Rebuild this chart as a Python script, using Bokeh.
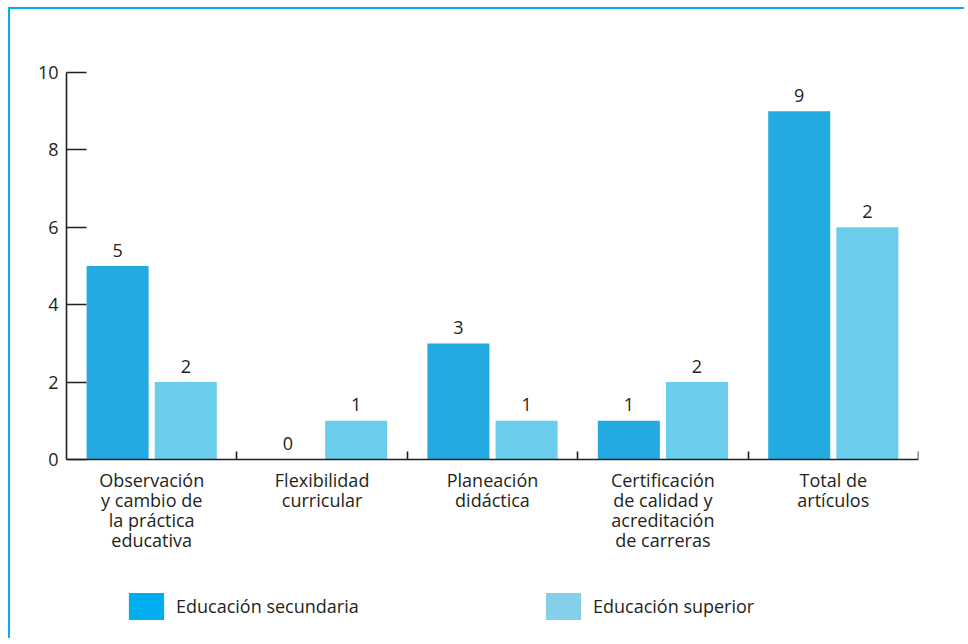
import numpy as np
from bokeh.plotting import figure
from bokeh.models import Range1d, FixedTicker, Legend, LegendItem, ColumnDataSource
from bokeh.core.properties import value
from bokeh.embed import file_html
from bokeh.resources import INLINE

# ---- data ----
categories = [
    "Observación\ny cambio de\nla práctica\neducativa",
    "Flexibilidad\ncurricular",
    "Planeación\ndidáctica",
    "Certificación\nde calidad y\nacreditación\nde carreras",
    "Total de\nartículos",
]
secundaria = [5, 0, 3, 1, 9]
superior = [2, 1, 1, 2, 6]          # bar heights as drawn
secundaria_labels = ["5", "0", "3", "1", "9"]
superior_labels = ["2", "1", "1", "2", "2"]  # labels as printed
y_ticks = [0, 2, 4, 6, 8, 10]
series_names = ["Educación secundaria", "Educación superior"]

# ---- styles / layout ----
FONT = "Open Sans"
FS = "18px"
TXT = "#231f20"
C_SEC = "#22aae1"
C_SUP = "#6bcdec"
L_SEC = "#00aeef"
L_SUP = "#84d0ea"
W, H = 956, 631
BORDER_TOP, BORDER_BOTTOM = 63, 10
AXIS_PX = 387          # pixel height of the 0..10 value axis
Y_MAX = 10
frame_h = H - BORDER_TOP - BORDER_BOTTOM
y_min = Y_MAX - frame_h * Y_MAX / AXIS_PX   # room under the axis for labels and legend

n = len(categories)
centers = np.arange(n) + 0.5
offset = 0.2
bw = 0.364

p = figure(width=W, height=H, output_backend="svg", toolbar_location=None,
           x_range=Range1d(0, n), y_range=Range1d(y_min, Y_MAX),
           min_border_left=56, min_border_top=BORDER_TOP, min_border_right=48,
           min_border_bottom=BORDER_BOTTOM)
p.outline_line_color = None
p.xgrid.visible = False
p.ygrid.visible = False
p.styles = {"border-top": "2px solid #00aeef", "border-left": "2px solid #00aeef",
            "margin-left": "8px", "margin-top": "7px"}

src_sec = ColumnDataSource(dict(x=centers - offset, top=secundaria, lab=secundaria_labels))
src_sup = ColumnDataSource(dict(x=centers + offset, top=superior, lab=superior_labels))

p.vbar(x="x", top="top", bottom=0, width=bw, source=src_sec, fill_color=C_SEC, line_color=None)
p.vbar(x="x", top="top", bottom=0, width=bw, source=src_sup, fill_color=C_SUP, line_color=None)

for src in (src_sec, src_sup):
    p.text(x="x", y="top", text="lab", source=src, text_align="center",
           text_baseline="alphabetic", y_offset=-16, text_font=value(FONT),
           text_font_size=FS, text_color=TXT)

# y axis (only 0..10)
yax = p.yaxis[0]
yax.ticker = FixedTicker(ticks=y_ticks)
yax.bounds = (0, Y_MAX)
yax.major_tick_in = 20
yax.major_tick_out = 0
yax.minor_tick_line_color = None
yax.axis_line_color = TXT
yax.axis_line_width = 1.6
yax.major_tick_line_color = TXT
yax.major_tick_line_width = 1.6
yax.major_label_text_font = FONT
yax.major_label_text_font_size = FS
yax.major_label_text_color = TXT
yax.major_label_standoff = 8

# x axis at value 0, with ticks at category boundaries
xax = p.xaxis[0]
xax.fixed_location = 0
xax.ticker = FixedTicker(ticks=[], minor_ticks=list(np.arange(1, n + 1)))
xax.major_tick_in = 0
xax.major_tick_out = 0
xax.minor_tick_in = 8
xax.minor_tick_out = 0
xax.minor_tick_line_color = TXT
xax.minor_tick_line_width = 1.6
xax.axis_line_color = TXT
xax.axis_line_width = 1.6

# category labels under the axis
p.text(x=centers, y=[0] * n, text=categories, text_align="center", text_baseline="top",
       text_line_height=0.845, y_offset=8, text_font=value(FONT), text_font_size=FS,
       text_color=TXT)

# zero-height bars that only carry the legend colours
r1 = p.vbar(x=[centers[0]], top=[0], bottom=[0], width=bw, fill_color=L_SEC, line_color=None)
r2 = p.vbar(x=[centers[0]], top=[0], bottom=[0], width=bw, fill_color=L_SUP, line_color=None)
for r, name, loc in ((r1, series_names[0], (58, 7)), (r2, series_names[1], (475, 7))):
    lg = Legend(items=[LegendItem(label=name, renderers=[r])], location=loc,
                glyph_width=44, glyph_height=34, label_standoff=8,
                label_text_font=FONT, label_text_font_size=FS,
                label_text_color=TXT, padding=0, margin=0,
                border_line_color=None, background_fill_alpha=0)
    p.add_layout(lg, "center")

open("out.html", "w").write(file_html(p, INLINE))
